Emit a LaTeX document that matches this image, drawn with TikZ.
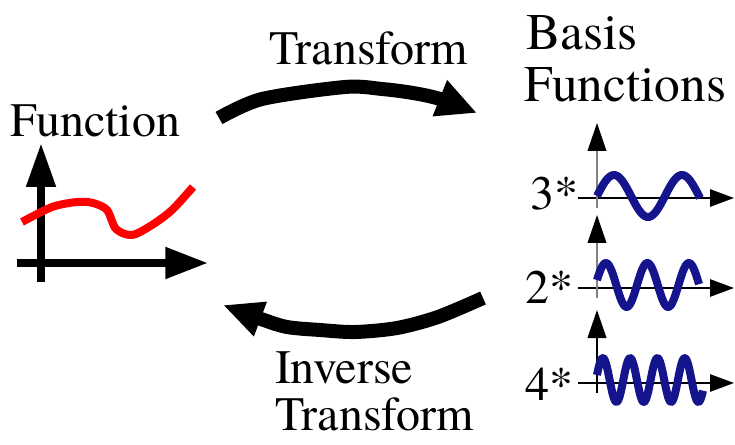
\documentclass[tikz,border=0pt]{standalone}
\usepackage{fontspec}
\setmainfont{texgyretermes-regular.otf}
\usetikzlibrary{arrows.meta}
\definecolor{wavecol}{RGB}{20,20,140}
\tikzset{
  lbl/.style={anchor=base west, inner sep=0pt, outer sep=0pt, font=\fontsize{36}{40}\selectfont},
  lblbig/.style={anchor=base west, inner sep=0pt, outer sep=0pt, font=\fontsize{38.5}{42}\selectfont},
  bigarrow/.style={line width=10.5pt, black},
  fnaxis/.style={line width=6pt, black},
  fncurve/.style={line width=6pt, red, line join=round},
  smallaxis/.style={line width=1.3pt},
  wave/.style={line width=6pt, wavecol, line join=round}
}
\begin{document}
\begin{tikzpicture}[x=0.75pt,y=-0.75pt]
\useasboundingbox (0,0) rectangle (735,445);

% texts
\node[lbl] (tfun) at (10,137) {Function};
\node[lbl] (ttr) at (269,65) {Transform};
\node[lblbig] (tbasis) at (526,50) {Basis};
\node[lblbig] (tfuncs) at (524,102) {Functions};
\node[lbl] (tinv) at (275,383) {Inverse};
\node[lbl] (tinvtr) at (275,430) {Transform};
\node[lbl] (t3) at (530,210) {3*};
\node[lbl] (t2) at (525,303) {2*};
\node[lbl] (t4) at (525,400) {4*};

% big curved arrows
\draw[bigarrow, -{Triangle[length=30pt,width=27pt]}]
  plot[smooth, tension=0.5] coordinates {(219,118) (262,99) (345,87) (382,89) (413,93) (440,99) (477,113)};
\draw[bigarrow, -{Triangle[length=30pt,width=25.5pt]}]
  plot[smooth, tension=0.5] coordinates {(483,298) (438,317) (397,328) (355,332) (320,330) (287,327) (261,319) (223,305)};

% function graph
\coordinate (fy0) at (41,282);
\coordinate (fy1) at (41,143);
\coordinate (fx0) at (17,263);
\coordinate (fx1) at (208,263);
\draw[fnaxis, -{Triangle[length=33pt,width=21pt]}] (fy0) -- (fy1);
\draw[fnaxis, -{Triangle[length=32pt,width=22.5pt]}] (fx0) -- (fx1);
\draw[fncurve] plot[smooth, tension=0.5] coordinates {(22,222) (52,207) (77,202) (93,203) (107,210) (116,229) (132,235) (152,225) (172,210) (193,187)};

% basis graphs
\foreach \ya/\yt/\yb/\col/\nm in {198/123/208/gray/g1, 288/215/298/gray/g2, 383/310/393/black/g3}{
  \coordinate (\nm h0) at (578,\ya);
  \coordinate (\nm h1) at (734,\ya);
  \coordinate (\nm v0) at (597,\yb);
  \coordinate (\nm v1) at (597,\yt);
  \draw[smallaxis, black, -{Triangle[length=18pt,width=13pt]}] (\nm h0) -- (\nm h1);
  \draw[smallaxis, \col, -{Triangle[length=21pt,width=14pt,color=black]}] (\nm v0) -- (\nm v1);
}
\draw[wave] plot[domain=0:103, samples=80] ({597+\x}, {196-21*sin(\x/68*360)});
\draw[wave] plot[domain=1.5:103.5, samples=100] ({595.5+\x}, {285-22*sin(\x/41.5*360)});
\draw[wave] plot[domain=1:107, samples=120] ({596+\x}, {380-22*sin(\x/27.3*360)});
\end{tikzpicture}
\end{document}
